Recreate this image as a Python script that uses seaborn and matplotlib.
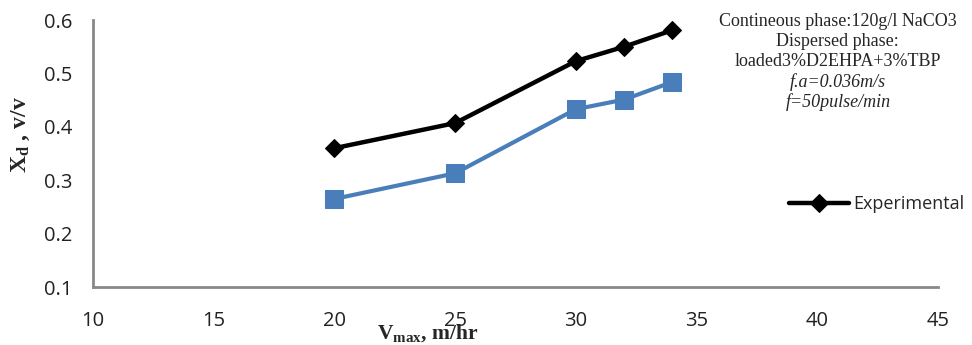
import numpy as np
import pandas as pd
import matplotlib
matplotlib.use("Agg")
import matplotlib.pyplot as plt
import seaborn as sns

# values
velocity = [20, 25, 30, 32, 34]
holdup_experimental = [0.360, 0.407, 0.523, 0.550, 0.581]
holdup_model = [0.265, 0.313, 0.433, 0.451, 0.484]

x_ticks = [10, 15, 20, 25, 30, 35, 40, 45]
y_ticks = [0.1, 0.2, 0.3, 0.4, 0.5, 0.6]

note_lines = ["Contineous phase:120g/l NaCO3",
              "Dispersed phase:",
              "loaded3%D2EHPA+3%TBP"]
note_italic = ["f.a=0.036m/s", "f=50pulse/min"]

sns.set_style("white")
plt.rcParams["font.family"] = ["Open Sans", "DejaVu Sans"]
plt.rcParams["mathtext.fontset"] = "custom"
plt.rcParams["mathtext.rm"] = "Liberation Serif"
plt.rcParams["mathtext.bf"] = "Liberation Serif:bold"

df = pd.DataFrame({"v": velocity, "exp": holdup_experimental, "model": holdup_model})

fig = plt.figure(figsize=(9.72, 3.45), dpi=100)
ax = fig.add_axes([0.0957, 0.168, 0.8693, 0.774])

sns.lineplot(data=df, x="v", y="model", ax=ax, color="#4a7ebb", lw=3,
             marker="s", markersize=13, markeredgecolor="#4a7ebb", label="_nolegend_")
sns.lineplot(data=df, x="v", y="exp", ax=ax, color="black", lw=3.2,
             marker="D", markersize=9, markeredgecolor="black", label="Experimental")

ax.set_xlim(10, 45)
ax.set_ylim(0.1, 0.6)
ax.set_xticks(x_ticks)
ax.set_yticks(y_ticks)
ax.set_yticklabels([f"{t:.1f}" for t in y_ticks])
ax.tick_params(axis="both", labelsize=14.5, labelcolor="#222222", length=5, width=1,
               direction="out", color="#888888")
ax.tick_params(axis="x", pad=12)
ax.tick_params(axis="y", pad=10)
for side in ["top", "right"]:
    ax.spines[side].set_visible(False)
for side in ["left", "bottom"]:
    ax.spines[side].set_color("#888888")
    ax.spines[side].set_linewidth(2)

ax.set_xlabel("")
ax.set_ylabel("")
fig.text(0.44, 0.004, r"$\mathbf{V_{max}}$, m/hr", fontsize=15.5, fontweight="bold",
         family="Liberation Serif", ha="center", va="bottom")
fig.text(0.022, 0.609, r"$\mathbf{X_d}$ , v/v", fontsize=17, fontweight="bold",
         family="Liberation Serif", rotation=90, ha="center", va="center")

for line, yy in zip(note_lines, [0.939, 0.881, 0.823]):
    fig.text(0.862, yy, line, fontsize=13, family="Liberation Serif", ha="center", va="center")
for line, yy in zip(note_italic, [0.762, 0.704]):
    fig.text(0.862, yy, line, fontsize=13, family="Liberation Serif", style="italic",
             ha="center", va="center")

leg = ax.legend(loc="center left", bbox_to_anchor=(0.812, 0.409), bbox_transform=fig.transFigure,
                frameon=False, fontsize=13, handlelength=3.3, handletextpad=0.25,
                borderaxespad=0, borderpad=0)

fig.savefig("out.png", dpi=100)
